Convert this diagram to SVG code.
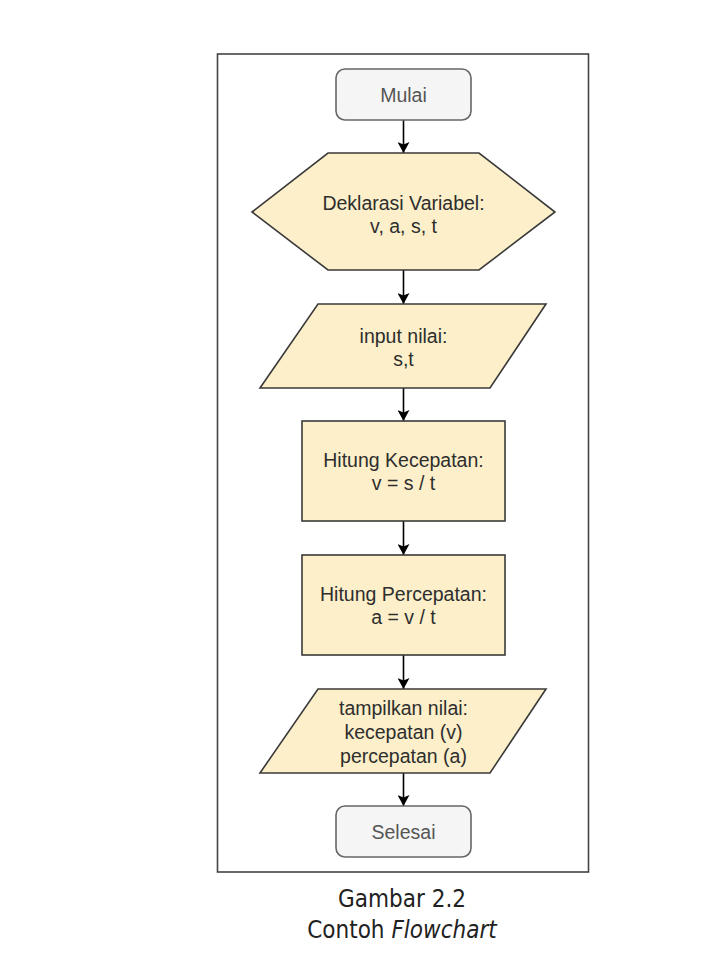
<svg xmlns="http://www.w3.org/2000/svg" width="720" height="974" viewBox="0 0 720 974">
<defs>
<marker id="arr" viewBox="0 0 11 12" refX="11" refY="6" markerWidth="11" markerHeight="12" markerUnits="userSpaceOnUse" orient="auto">
<path d="M0,0 L11,6 L0,12 L2.5,6 Z" fill="#000"/>
</marker>
<style>
.shape{fill:#fcefc9;stroke:#3a3a3a;stroke-width:1.6}
.term{fill:#f5f5f5;stroke:#666;stroke-width:1.6}
.t{font-family:"Liberation Sans",Arial,sans-serif;font-size:19.5px;fill:#2e2e2e;text-anchor:middle}
.tg{font-family:"Liberation Sans",Arial,sans-serif;font-size:19.5px;fill:#555;text-anchor:middle}
.edge{stroke:#000;stroke-width:1.6;fill:none;marker-end:url(#arr)}
.cap{font-family:"DejaVu Sans Condensed","DejaVu Sans",sans-serif;font-stretch:condensed;font-size:24px;fill:#222;text-anchor:middle}
</style>
</defs>
<rect width="720" height="974" fill="#fff"/>
<rect id="frame" x="217.5" y="54" width="371" height="818" fill="none" stroke="#444" stroke-width="1.6"/>
<g id="connectors">
<line class="edge" x1="403.5" y1="120" x2="403.5" y2="153"/>
<line class="edge" x1="403.5" y1="270" x2="403.5" y2="304"/>
<line class="edge" x1="403.5" y1="388" x2="403.5" y2="421"/>
<line class="edge" x1="403.5" y1="521" x2="403.5" y2="555"/>
<line class="edge" x1="403.5" y1="655" x2="403.5" y2="689"/>
<line class="edge" x1="403.5" y1="773" x2="403.5" y2="806"/>
</g>
<g id="mulai">
<rect class="term" x="336" y="69" width="135" height="51" rx="9"/>
<text class="tg" x="403.5" y="102">Mulai</text>
</g>
<g id="deklarasi">
<polygon class="shape" points="252,212 328,153 479,153 555,212 479,270 328,270"/>
<text class="t" x="403.5" y="210">Deklarasi Variabel:</text>
<text class="t" x="403.5" y="233">v, a, s, t</text>
</g>
<g id="input">
<polygon class="shape" points="318,304 546,304 490,388 260,388"/>
<text class="t" x="403.5" y="343">input nilai:</text>
<text class="t" x="403.5" y="366">s,t</text>
</g>
<g id="kecepatan">
<rect class="shape" x="302" y="421" width="203" height="100"/>
<text class="t" x="403.5" y="467">Hitung Kecepatan:</text>
<text class="t" x="403.5" y="490">v = s / t</text>
</g>
<g id="percepatan">
<rect class="shape" x="302" y="555" width="203" height="100"/>
<text class="t" x="403.5" y="601">Hitung Percepatan:</text>
<text class="t" x="403.5" y="624">a = v / t</text>
</g>
<g id="tampilkan">
<polygon class="shape" points="318,689 546,689 490,773 260,773"/>
<text class="t" x="403.5" y="715">tampilkan nilai:</text>
<text class="t" x="403.5" y="739">kecepatan (v)</text>
<text class="t" x="403.5" y="763">percepatan (a)</text>
</g>
<g id="selesai">
<rect class="term" x="336" y="806" width="135" height="51" rx="9"/>
<text class="tg" x="403.5" y="839">Selesai</text>
</g>
<g id="caption">
<text class="cap" x="402" y="907">Gambar 2.2</text>
<text class="cap" x="402" y="938">Contoh <tspan font-style="italic">Flowchart</tspan></text>
</g>
</svg>
